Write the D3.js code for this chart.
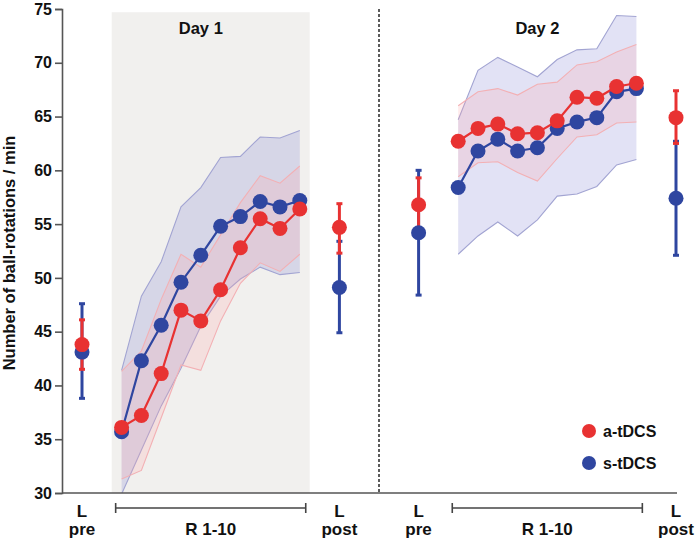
<!DOCTYPE html>
<html>
<head>
<meta charset="utf-8">
<script src="https://cdn.jsdelivr.net/npm/d3@7"></script>
<style>
  html, body { margin: 0; padding: 0; background: #fff; }
  svg { display: block; font-family: "Liberation Sans", Arial, sans-serif; font-weight: bold; }
</style>
</head>
<body>
<svg id="chart" width="700" height="542"></svg>
<script>
// ---------- data ----------
const days = ["Day 1", "Day 2"];
const runs = [1, 2, 3, 4, 5, 6, 7, 8, 9, 10];
const yTicks = [30, 35, 40, 45, 50, 55, 60, 65, 70, 75];
const seriesNames = ["a-tDCS", "s-tDCS"];

// slot index of each category on the x axis
const preSlot = [0, 17];
const postSlot = [13, 30];
const runStartSlot = [2, 19];
const dividerSlot = 15;

// a-tDCS (red)
const aDay1   = [36.1, 37.2, 41.1, 47.0, 46.0, 48.9, 52.8, 55.5, 54.6, 56.4];
const aDay1Lo = [31.3, 32.1, 37.0, 41.9, 41.4, 46.0, 49.5, 51.4, 50.6, 52.2];
const aDay1Hi = [41.3, 43.2, 48.0, 52.2, 51.0, 54.0, 57.0, 59.5, 58.8, 60.4];
const aDay2   = [62.7, 63.9, 64.3, 63.4, 63.5, 64.6, 66.8, 66.7, 67.8, 68.1];
const aDay2Lo = [59.4, 60.7, 60.8, 59.8, 59.0, 61.1, 63.1, 63.3, 64.4, 64.5];
const aDay2Hi = [66.0, 67.3, 67.6, 67.0, 68.0, 68.2, 69.8, 70.1, 71.0, 71.7];
const aPre    = [43.8, 56.8];
const aPreLo  = [41.5, 54.3];
const aPreHi  = [46.1, 59.3];
const aPost   = [54.7, 64.9];
const aPostLo = [52.3, 62.5];
const aPostHi = [56.9, 67.4];

// s-tDCS (blue)
const sDay1   = [35.7, 42.3, 45.6, 49.6, 52.1, 54.8, 55.7, 57.1, 56.6, 57.2];
const sDay1Lo = [29.9, 34.0, 38.1, 41.6, 45.5, 48.3, 49.9, 51.0, 50.3, 50.5];
const sDay1Hi = [41.4, 48.3, 51.5, 56.6, 58.4, 61.2, 61.3, 63.1, 63.0, 63.7];
const sDay2   = [58.4, 61.8, 62.9, 61.8, 62.1, 63.9, 64.5, 64.9, 67.3, 67.6];
const sDay2Lo = [52.2, 53.9, 55.2, 53.9, 55.4, 57.6, 57.8, 58.5, 60.5, 61.0];
const sDay2Hi = [64.7, 69.3, 70.5, 69.6, 68.7, 70.3, 71.2, 71.3, 74.4, 74.3];
const sPre    = [43.1, 54.2];
const sPreLo  = [38.8, 48.4];
const sPreHi  = [47.6, 60.0];
const sPost   = [49.1, 57.4];
const sPostLo = [44.9, 52.1];
const sPostHi = [53.4, 62.7];

// ---------- styles ----------
const RED = "#e83232", BLUE = "#2f46a0";
const RED_BAND = "rgba(255,165,170,0.22)", RED_EDGE = "#f3b0b4";
const BLUE_BAND = "rgba(110,110,205,0.20)", BLUE_EDGE = "#a2a4d2";

const svg = d3.select("#chart");
const x = d3.scaleLinear().domain([0, 30]).range([82, 676]);
const y = d3.scaleLinear().domain([30, 75]).range([493, 9]);

// Day 1 background
svg.append("rect")
  .attr("x", x(1.5)).attr("y", y(74.7))
  .attr("width", x(11.5) - x(1.5)).attr("height", y(30) - y(74.7))
  .attr("fill", "#f1f0ee");

// day titles
days.forEach((d, i) => {
  const s = runStartSlot[i];
  svg.append("text").attr("x", x(s + 4.0)).attr("y", 34)
    .attr("text-anchor", "middle").attr("font-size", 16.5).attr("fill", "#111").text(d);
});

// divider
svg.append("line")
  .attr("x1", x(dividerSlot)).attr("x2", x(dividerSlot))
  .attr("y1", y(75)).attr("y2", y(30))
  .attr("stroke", "#333").attr("stroke-width", 1.6).attr("stroke-dasharray", "3,2");

// bands
const runData = [
  {name: "s", color: BLUE, band: BLUE_BAND, edge: BLUE_EDGE,
   days: [[sDay1, sDay1Lo, sDay1Hi], [sDay2, sDay2Lo, sDay2Hi]]},
  {name: "a", color: RED, band: RED_BAND, edge: RED_EDGE,
   days: [[aDay1, aDay1Lo, aDay1Hi], [aDay2, aDay2Lo, aDay2Hi]]}
];

const area = d3.area()
  .x(d => x(d.s)).y0(d => y(d.lo)).y1(d => y(d.hi));
const lineHi = d3.line().x(d => x(d.s)).y(d => y(d.hi));
const lineLo = d3.line().x(d => x(d.s)).y(d => y(d.lo));
const lineM = d3.line().x(d => x(d.s)).y(d => y(d.v));

svg.append("clipPath").attr("id", "plotclip")
  .append("rect").attr("x", 60).attr("y", 0).attr("width", 640).attr("height", y(30));

const bandG = svg.append("g").attr("clip-path", "url(#plotclip)");
runData.forEach(ser => {
  ser.days.forEach((dd, di) => {
    const pts = runs.map((r, k) => ({s: runStartSlot[di] + k, v: dd[0][k], lo: dd[1][k], hi: dd[2][k]}));
    bandG.append("path").attr("d", area(pts)).attr("fill", ser.band);
    bandG.append("path").attr("d", lineHi(pts)).attr("fill", "none").attr("stroke", ser.edge).attr("stroke-width", 1.1);
    bandG.append("path").attr("d", lineLo(pts)).attr("fill", "none").attr("stroke", ser.edge).attr("stroke-width", 1.1);
  });
});

// axes
const yAxis = d3.axisLeft(y).tickValues(yTicks).tickSize(7).tickPadding(3);
const gy = svg.append("g").attr("transform", `translate(${x(0) - 20},0)`).call(yAxis);
gy.select(".domain").attr("stroke", "#555").attr("stroke-width", 1.6);
gy.selectAll(".tick line").attr("stroke", "#555").attr("stroke-width", 1.6);
gy.selectAll(".tick text").attr("font-size", 16).attr("font-weight", "bold")
  .attr("fill", "#111").attr("font-family", "Liberation Sans, Arial, sans-serif");

svg.append("line").attr("x1", x(0) - 20).attr("x2", x(30) + 1)
  .attr("y1", y(30)).attr("y2", y(30)).attr("stroke", "#555").attr("stroke-width", 1.6);

// y title
svg.append("text")
  .attr("transform", `translate(15,${(y(30) + y(75)) / 2 + 2}) rotate(-90)`)
  .attr("text-anchor", "middle").attr("font-size", 16.5).attr("fill", "#111")
  .text("Number of ball-rotations / min");

// bottom labels
const labelG = svg.append("g").attr("fill", "#111").attr("font-size", 17).attr("text-anchor", "middle");
days.forEach((d, i) => {
  labelG.append("text").attr("x", x(preSlot[i])).attr("y", 517).text("L");
  labelG.append("text").attr("x", x(preSlot[i])).attr("y", 535).text("pre");
  labelG.append("text").attr("x", x(postSlot[i])).attr("y", 517).text("L");
  labelG.append("text").attr("x", x(postSlot[i])).attr("y", 535).text("post");
  const s0 = x(runStartSlot[i] - 0.3), s1 = x(runStartSlot[i] + runs.length - 1 + 0.3);
  const by = 508;
  const br = svg.append("g").attr("stroke", "#444").attr("stroke-width", 1.6);
  br.append("line").attr("x1", s0).attr("x2", s1).attr("y1", by).attr("y2", by);
  br.append("line").attr("x1", s0).attr("x2", s0).attr("y1", by - 5).attr("y2", by + 5);
  br.append("line").attr("x1", s1).attr("x2", s1).attr("y1", by - 5).attr("y2", by + 5);
  labelG.append("text").attr("x", (s0 + s1) / 2).attr("y", 535).text(`R ${runs[0]}-${runs[runs.length - 1]}`);
});

// error bars (pre/post)
function errBar(slot, v, lo, hi, color) {
  const g = svg.append("g").attr("stroke", color).attr("stroke-width", 3);
  const cx = x(slot);
  g.append("line").attr("x1", cx).attr("x2", cx).attr("y1", y(lo)).attr("y2", y(hi));
  g.append("line").attr("x1", cx - 3).attr("x2", cx + 3).attr("y1", y(lo)).attr("y2", y(lo));
  g.append("line").attr("x1", cx - 3).attr("x2", cx + 3).attr("y1", y(hi)).attr("y2", y(hi));
}
const prePost = [
  {color: BLUE, pre: [sPre, sPreLo, sPreHi], post: [sPost, sPostLo, sPostHi]},
  {color: RED, pre: [aPre, aPreLo, aPreHi], post: [aPost, aPostLo, aPostHi]}
];
prePost.forEach(p => {
  days.forEach((d, i) => {
    errBar(preSlot[i], p.pre[0][i], p.pre[1][i], p.pre[2][i], p.color);
    errBar(postSlot[i], p.post[0][i], p.post[1][i], p.post[2][i], p.color);
  });
});
prePost.forEach(p => {
  days.forEach((d, i) => {
    svg.append("circle").attr("cx", x(preSlot[i])).attr("cy", y(p.pre[0][i])).attr("r", 7.5).attr("fill", p.color);
    svg.append("circle").attr("cx", x(postSlot[i])).attr("cy", y(p.post[0][i])).attr("r", 7.5).attr("fill", p.color);
  });
});

// run lines and markers
runData.forEach(ser => {
  ser.days.forEach((dd, di) => {
    const pts = runs.map((r, k) => ({s: runStartSlot[di] + k, v: dd[0][k]}));
    svg.append("path").attr("d", lineM(pts)).attr("fill", "none")
      .attr("stroke", ser.color).attr("stroke-width", 2.2);
    svg.selectAll(null).data(pts).enter().append("circle")
      .attr("cx", d => x(d.s)).attr("cy", d => y(d.v)).attr("r", 7.5).attr("fill", ser.color);
  });
});

// legend
const legColors = [RED, BLUE];
seriesNames.forEach((n, i) => {
  const ly = 431 + i * 32;
  svg.append("circle").attr("cx", 589).attr("cy", ly).attr("r", 7).attr("fill", legColors[i]);
  svg.append("text").attr("x", 603).attr("y", ly + 5.5).attr("font-size", 16).attr("fill", "#111").text(n);
});
</script>
</body>
</html>
